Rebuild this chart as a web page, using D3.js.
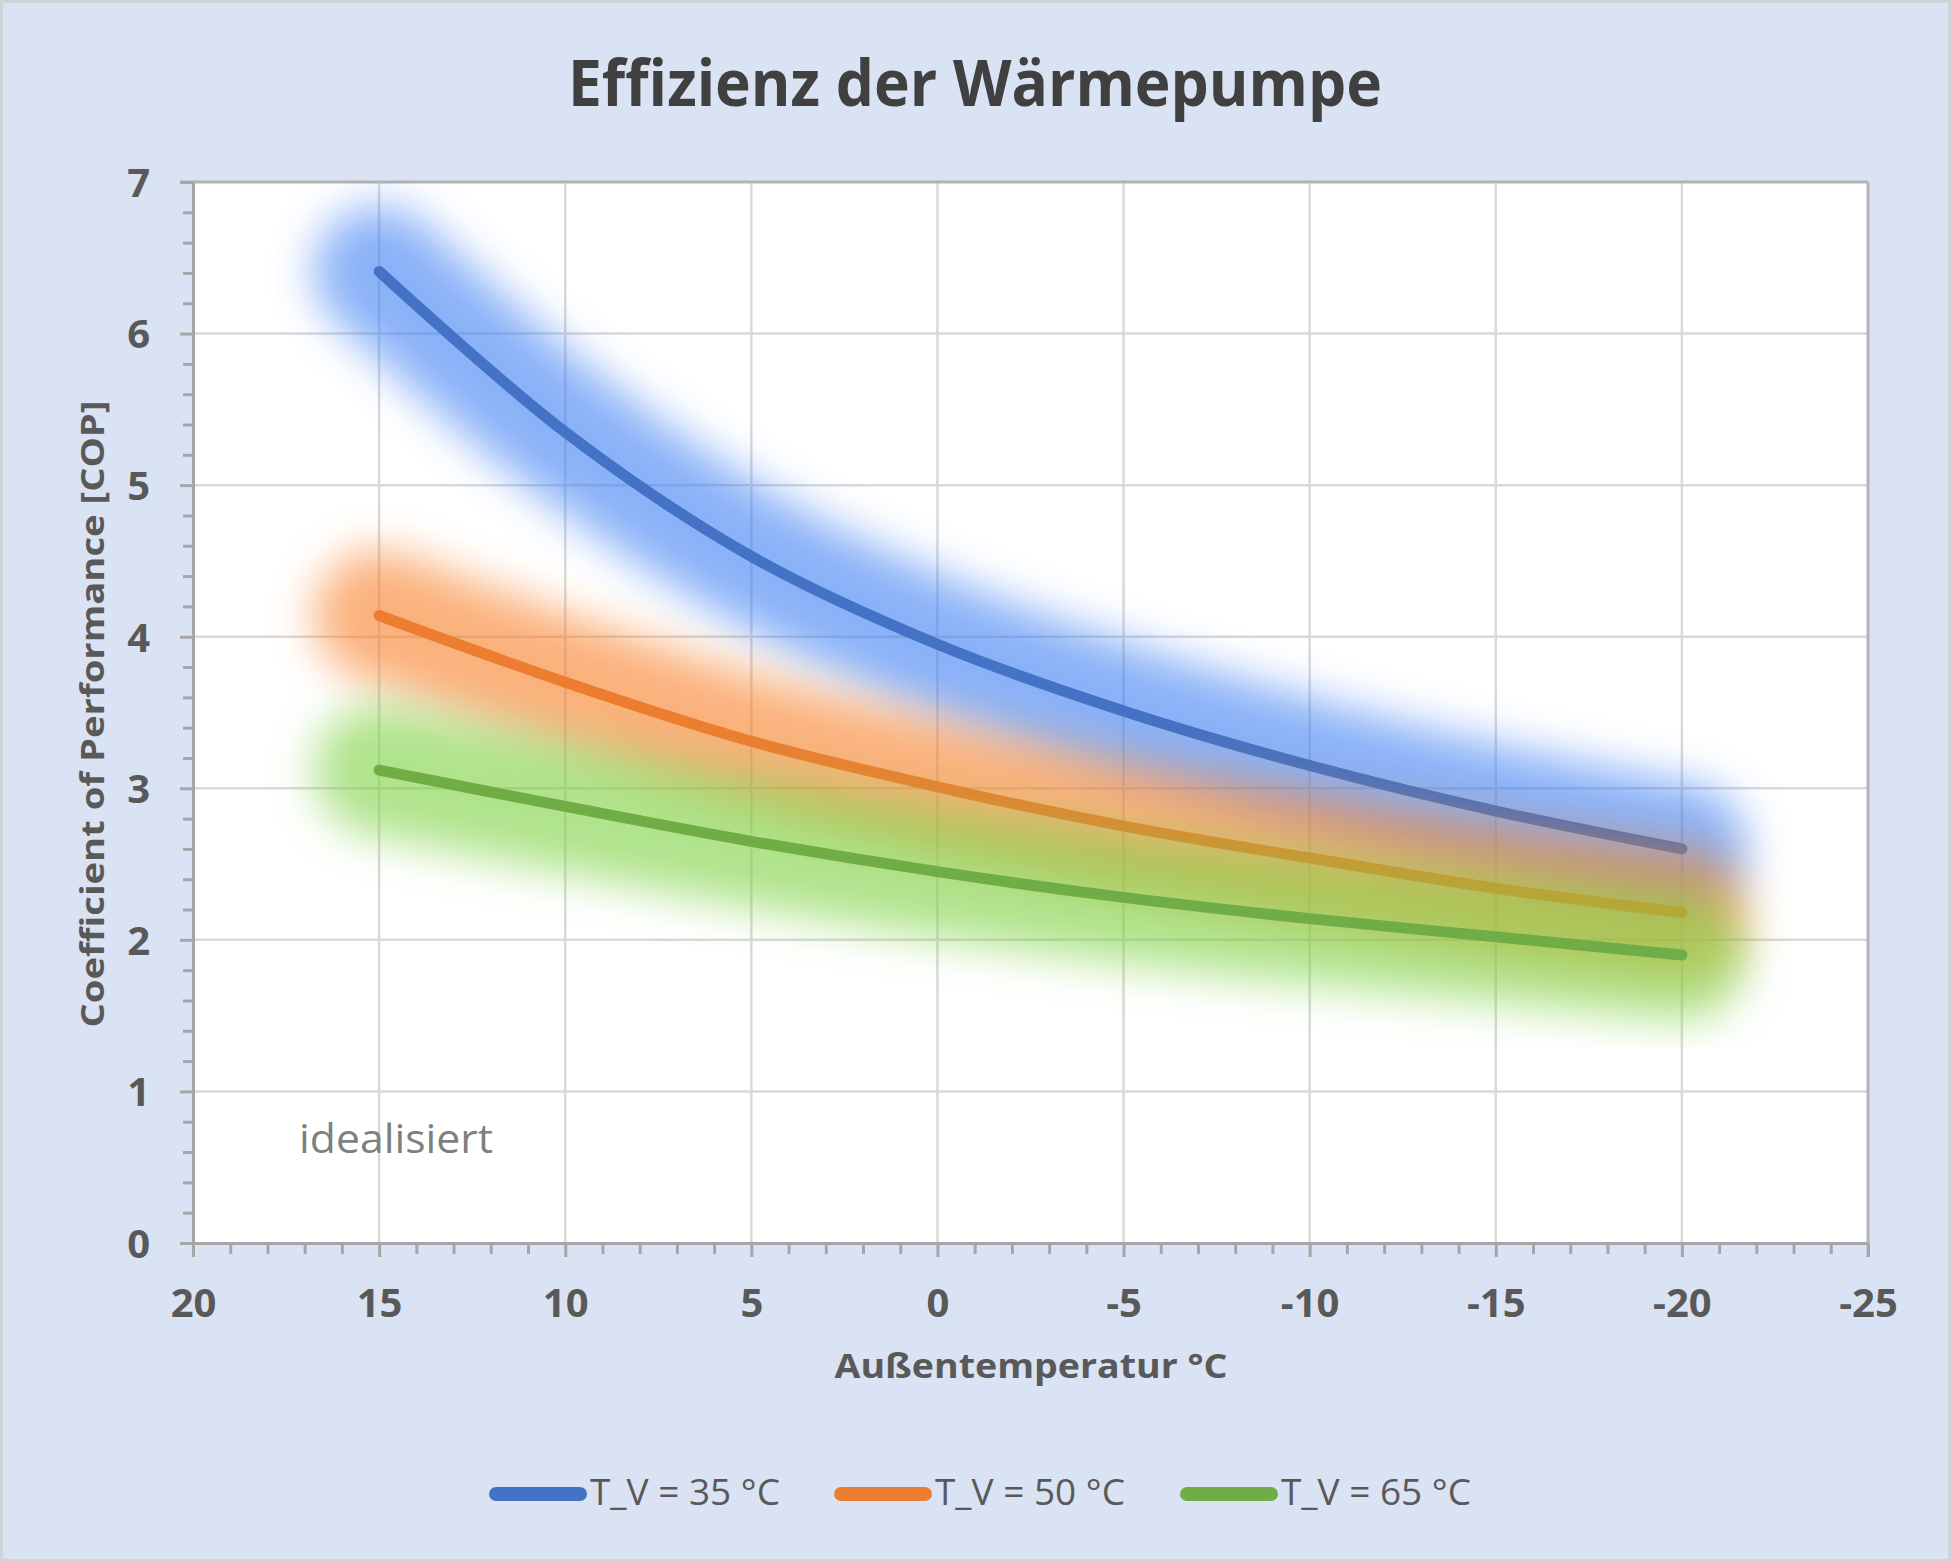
<!DOCTYPE html>
<html>
<head>
<meta charset="utf-8">
<script src="https://cdn.jsdelivr.net/npm/d3@7"></script>
<style>
  html, body { margin: 0; padding: 0; background: #dae3f3; }
  svg { display: block; }
</style>
</head>
<body>
<script>
// ---------- data ----------
const temps = [15, 10, 5, 0, -5, -10, -15, -20];
const cop35 = [6.41, 5.35, 4.53, 3.95, 3.51, 3.15, 2.85, 2.60];
const cop50 = [4.14, 3.70, 3.31, 3.01, 2.75, 2.54, 2.34, 2.18];
const cop65 = [3.12, 2.88, 2.65, 2.45, 2.28, 2.14, 2.02, 1.90];
const seriesNames = ["T_V = 35 °C", "T_V = 50 °C", "T_V = 65 °C"];
const xTicks = [20, 15, 10, 5, 0, -5, -10, -15, -20, -25];
const yTicks = [0, 1, 2, 3, 4, 5, 6, 7];
const titleText = "Effizienz der Wärmepumpe";
const xLabel = "Außentemperatur °C";
const yLabel = "Coefficient of Performance [COP]";
const noteText = "idealisiert";

// ---------- styles ----------
const lineColors = ["#4472c4", "#ed7d31", "#70ad47"];
const glowColors = ["#3c7ff3", "#f87f25", "#7bd23f"];
const W = 1951, H = 1562;
const P = {left: 193, right: 1868, top: 182, bottom: 1243};

const svg = d3.select("body").append("svg").attr("width", W).attr("height", H);

// chart background + border
svg.append("rect").attr("x", 1.5).attr("y", 1.5).attr("width", W - 3).attr("height", H - 3)
  .attr("fill", "#dae3f3").attr("stroke", "#d0d3d9").attr("stroke-width", 3);

const defs = svg.append("defs");
defs.append("clipPath").attr("id", "plotclip").append("rect")
  .attr("x", P.left).attr("y", P.top).attr("width", P.right - P.left).attr("height", P.bottom - P.top);
const f = defs.append("filter").attr("id", "glow")
  .attr("x", -0.5).attr("y", -0.5).attr("width", 2).attr("height", 2);
f.append("feGaussianBlur").attr("stdDeviation", 22);

const x = d3.scaleLinear().domain([20, -25]).range([P.left, P.right]);
const y = d3.scaleLinear().domain([0, 7]).range([P.bottom, P.top]);

// plot area
svg.append("rect").attr("x", P.left).attr("y", P.top)
  .attr("width", P.right - P.left).attr("height", P.bottom - P.top).attr("fill", "#ffffff");

// gridlines
const grid = svg.append("g");
grid.selectAll("line.h").data(yTicks.filter(v => v > 0 && v < 7)).join("line")
  .attr("x1", P.left).attr("x2", P.right).attr("y1", d => y(d)).attr("y2", d => y(d))
  .attr("stroke", "#d9d9d9").attr("stroke-width", 2.5);
grid.selectAll("line.v").data(xTicks.filter(v => v < 20 && v > -25)).join("line")
  .attr("y1", P.top).attr("y2", P.bottom).attr("x1", d => x(d)).attr("x2", d => x(d))
  .attr("stroke", "#d9d9d9").attr("stroke-width", 2.5);

// border top/right
svg.append("line").attr("x1", P.left - 13).attr("x2", P.right).attr("y1", P.top).attr("y2", P.top)
  .attr("stroke", "#b4b4b4").attr("stroke-width", 3);
svg.append("line").attr("x1", P.right).attr("x2", P.right).attr("y1", P.top).attr("y2", P.bottom + 14)
  .attr("stroke", "#b4b4b4").attr("stroke-width", 3);

// series
const series = [cop35, cop50, cop65];
const line = d3.line().x(d => x(d[0])).y(d => y(d[1])).curve(d3.curveCatmullRom.alpha(0.5));
const plot = svg.append("g").attr("clip-path", "url(#plotclip)");
series.forEach((vals, i) => {
  const pts = temps.map((t, k) => [t, vals[k]]);
  plot.append("g").attr("filter", "url(#glow)").attr("opacity", 0.6)
    .append("path").attr("d", line(pts)).attr("fill", "none")
    .attr("stroke", glowColors[i]).attr("stroke-width", 130)
    .attr("stroke-linecap", "round").attr("stroke-linejoin", "round");
  plot.append("path").attr("d", line(pts)).attr("fill", "none")
    .attr("stroke", lineColors[i]).attr("stroke-width", 11)
    .attr("stroke-linecap", "round").attr("stroke-linejoin", "round");
});

// axes
const axisColor = "#a6a6a6";
function styleAxis(g) {
  g.selectAll("path.domain").attr("stroke", axisColor).attr("stroke-width", 3);
  g.selectAll(".tick line").attr("stroke", axisColor).attr("stroke-width", 3);
}
const yMinor = d3.range(0, 7.001, 0.2).map(v => +v.toFixed(1)).filter(v => Math.abs(v - Math.round(v)) > 0.01);
svg.append("g").attr("transform", `translate(${P.left},0)`)
  .call(d3.axisLeft(y).tickValues(yMinor).tickSize(10).tickSizeOuter(0).tickFormat(""))
  .call(styleAxis);
const yAx = svg.append("g").attr("transform", `translate(${P.left},0)`)
  .call(d3.axisLeft(y).tickValues(yTicks).tickSize(13).tickSizeOuter(0).tickPadding(30)
    .tickFormat(d => String(d)))
  .call(styleAxis);
yAx.selectAll("text").attr("font-family", "'Open Sans', sans-serif").attr("font-weight", 700)
  .attr("font-size", 40).attr("fill", "#595959").attr("dy", "0.36em");

const xMinor = d3.range(20, -25.001, -1).filter(v => v % 5 !== 0);
svg.append("g").attr("transform", `translate(0,${P.bottom})`)
  .call(d3.axisBottom(x).tickValues(xMinor).tickSize(11).tickSizeOuter(0).tickFormat(""))
  .call(styleAxis);
const xAx = svg.append("g").attr("transform", `translate(0,${P.bottom})`)
  .call(d3.axisBottom(x).tickValues(xTicks).tickSize(14).tickSizeOuter(0)
    .tickFormat(d => String(d)))
  .call(styleAxis);
xAx.selectAll("text").attr("font-family", "'Open Sans', sans-serif").attr("font-weight", 700)
  .attr("font-size", 40).attr("fill", "#595959").attr("y", 74).attr("dy", 0);

// texts
svg.append("text").text(titleText).attr("x", 975).attr("y", 106)
  .attr("text-anchor", "middle").attr("font-family", "'Open Sans', sans-serif")
  .attr("font-weight", 700).attr("font-size", 64).attr("fill", "#404040")
  .attr("textLength", 814).attr("lengthAdjust", "spacingAndGlyphs");

svg.append("text").text(xLabel).attr("x", 1031).attr("y", 1378)
  .attr("text-anchor", "middle").attr("font-family", "'Open Sans', sans-serif")
  .attr("font-weight", 700).attr("font-size", 34).attr("fill", "#595959")
  .attr("textLength", 393).attr("lengthAdjust", "spacingAndGlyphs");

svg.append("text").text(yLabel)
  .attr("transform", "translate(104,714) rotate(-90)")
  .attr("text-anchor", "middle").attr("font-family", "'Open Sans', sans-serif")
  .attr("font-weight", 700).attr("font-size", 33).attr("fill", "#595959")
  .attr("textLength", 627).attr("lengthAdjust", "spacingAndGlyphs");

svg.append("text").text(noteText).attr("x", 299).attr("y", 1153)
  .attr("font-family", "'Open Sans', sans-serif").attr("font-size", 40).attr("fill", "#7f7f7f")
  .attr("textLength", 194).attr("lengthAdjust", "spacingAndGlyphs");

// legend
const legX = [489, 834, 1180];
const leg = svg.append("g");
seriesNames.forEach((name, i) => {
  leg.append("line").attr("x1", legX[i] + 7).attr("x2", legX[i] + 91)
    .attr("y1", 1494).attr("y2", 1494).attr("stroke", lineColors[i])
    .attr("stroke-width", 14).attr("stroke-linecap", "round");
  leg.append("text").text(name).attr("x", legX[i] + 101).attr("y", 1505)
    .attr("font-family", "'Open Sans', sans-serif").attr("font-size", 36).attr("fill", "#595959")
    .attr("textLength", 190).attr("lengthAdjust", "spacingAndGlyphs");
});
</script>
</body>
</html>
